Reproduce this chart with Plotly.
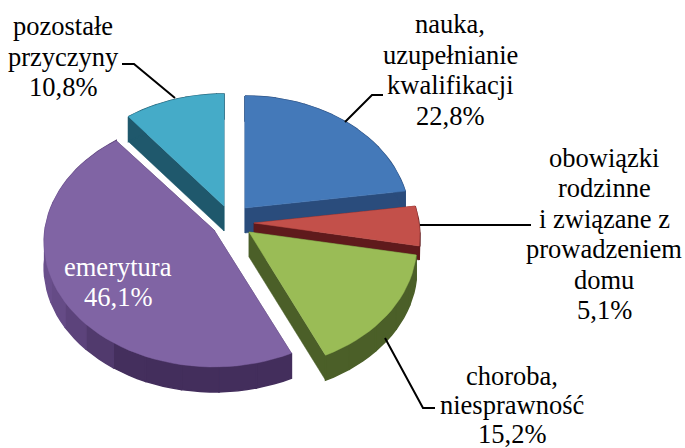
import math
import plotly.graph_objects as go

# --- data ---
categories = ["nauka, uzupełnianie kwalifikacji",
              "obowiązki rodzinne i związane z prowadzeniem domu",
              "choroba, niesprawność", "emerytura", "pozostałe przyczyny"]
shares = [22.8, 5.1, 15.2, 46.1, 10.8]
label_lines = [["nauka,", "uzupełnianie", "kwalifikacji", "22,8%"],
               ["obowiązki", "rodzinne", "i związane z", "prowadzeniem", "domu", "5,1%"],
               ["choroba,", "niesprawność", "15,2%"],
               ["emerytura", "46,1%"],
               ["pozostałe", "przyczyny", "10,8%"]]

# --- styling / layout ---
top_colors = ["#4479b9", "#c3504a", "#9abc56", "#8064a4", "#45abc8"]
wall_colors = ["#2a4c7c", "#5f1a1c", "#4b5f28", "#432e5c", "#1f586c"]
wall_light = ["#2a4c7c", "#5f1a1c", "#4b5f28", "#6a4f8c", "#1f586c"]
apexes = [(245, 208), (254, 223), (249, 232), (214, 230), (224, 206)]
radii_x = [164, 165, 167, 169, 165]
depths = [25, 14, 25, 25, 25]
label_pos = [(450, 24), (604, 158), (512, 376), (118, 267), (63, 26)]
label_step = [30.5, 30.4, 29, 30, 30.5]
label_col = ["black", "black", "black", "white", "black"]
leaders = [([345, 372, 383], [122, 95, 95]),
           ([420, 531], [225, 225]),
           ([385, 423, 435], [338, 408, 408]),
           ([175, 134, 122], [98, 64, 64])]
RY, K = 124.5, 0.10
draw_order = [0, 1, 2, 4, 3]


def hex2rgb(c):
    return [int(c[i:i + 2], 16) for i in (1, 3, 5)]


def mix(a, b, t):
    ra, rb = hex2rgb(a), hex2rgb(b)
    return "rgb(" + ",".join(str(round(p + (q - p) * t)) for p, q in zip(ra, rb)) + ")"


def rim(apex, rx, theta):
    s = 1 - K * math.cos(theta)
    return apex[0] + rx * math.sin(theta) * s, apex[1] - RY * math.cos(theta) * s


def poly(fig, pts, color, width=0.5):
    fig.add_trace(go.Scatter(x=[p[0] for p in pts] + [pts[0][0]],
                             y=[p[1] for p in pts] + [pts[0][1]],
                             mode="lines", fill="toself", fillcolor=color,
                             line=dict(color=color, width=width),
                             hoverinfo="skip", showlegend=False))


# angular spans from the shares
total = sum(shares)
spans, start = [], 0.0
for v in shares:
    end = start + v / total * 2 * math.pi
    spans.append((start, end))
    start = end

fig = go.Figure()
for i in draw_order:
    a0, a1 = spans[i]
    apex = apexes[i]
    d = depths[i]

    def down(p):
        return p[0], p[1] + d

    n = max(6, int((a1 - a0) / 0.05))
    arc = [rim(apex, radii_x[i], a0 + (a1 - a0) * j / n) for j in range(n + 1)]
    # cut faces
    poly(fig, [apex, arc[0], down(arc[0]), down(apex)], wall_colors[i])
    poly(fig, [apex, arc[-1], down(arc[-1]), down(apex)], wall_colors[i])
    # outer wall, in short bands so it can shade with direction
    step = 4
    for j in range(0, n, step):
        seg = arc[j:j + step + 1]
        mid = a0 + (a1 - a0) * (j + step / 2) / n
        t = min(1, max(0, (math.sin(mid) + 0.95) / 0.5))
        poly(fig, seg + [down(p) for p in reversed(seg)],
             mix(wall_light[i], wall_colors[i], t), width=1.5)
    # top face
    poly(fig, [apex] + arc, top_colors[i])

for lx, ly in leaders:
    fig.add_trace(go.Scatter(x=lx, y=ly, mode="lines",
                             line=dict(color="black", width=2),
                             hoverinfo="skip", showlegend=False))

for lines, (x, y), st, c in zip(label_lines, label_pos, label_step, label_col):
    for k, line in enumerate(lines):
        fig.add_annotation(x=x, y=y + k * st, xref="x", yref="y", text=line,
                           showarrow=False, xanchor="center", yanchor="middle",
                           font=dict(family="Liberation Serif", size=26.5, color=c))

fig.update_xaxes(range=[0, 685], visible=False, fixedrange=True)
fig.update_yaxes(range=[448, 0], visible=False, fixedrange=True)
fig.update_layout(width=685, height=448, margin=dict(l=0, r=0, t=0, b=0),
                  paper_bgcolor="white", plot_bgcolor="white", showlegend=False)
fig.write_html("out.html", config={"displayModeBar": False},
               post_script="document.body.style.margin='0';document.body.style.overflow='hidden';")
